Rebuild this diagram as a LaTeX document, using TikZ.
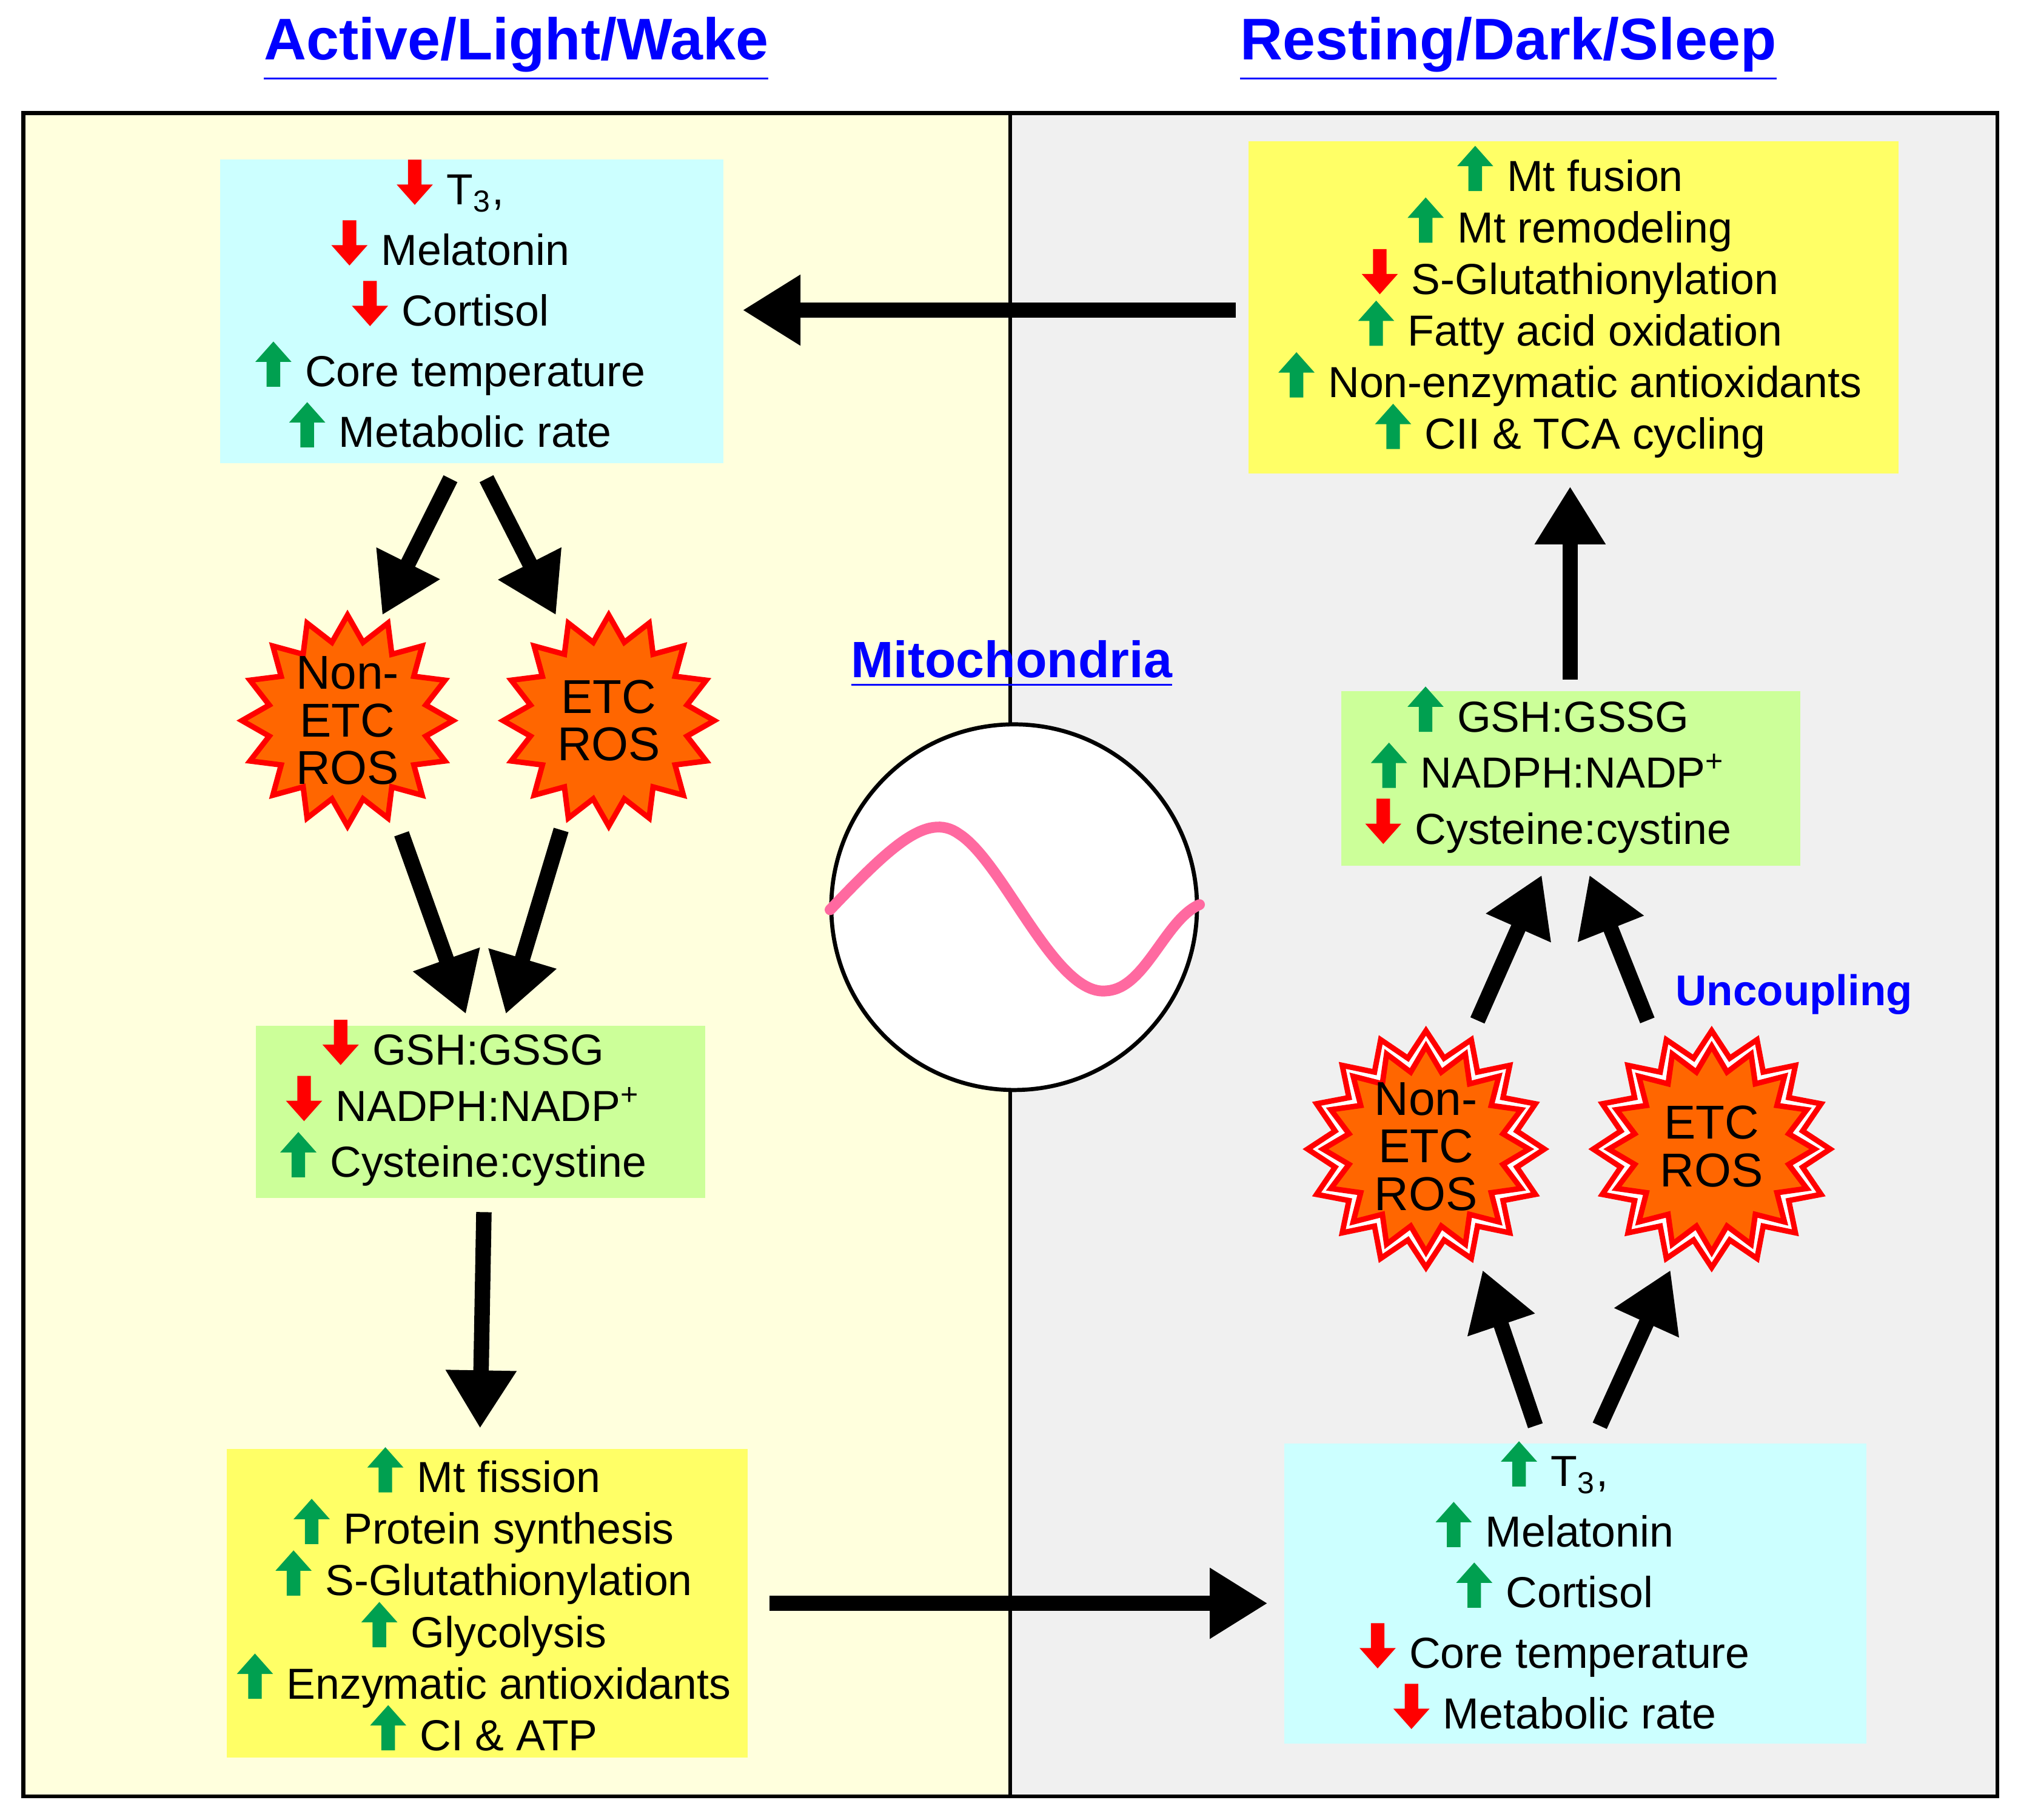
\documentclass[tikz,border=0pt]{standalone}
\usepackage{fontspec}
\setmainfont{Liberation Sans}
\usetikzlibrary{arrows.meta}
\definecolor{ltyel}{RGB}{255,255,221}
\definecolor{ltgray}{RGB}{240,240,240}
\definecolor{cyanbox}{RGB}{204,255,255}
\definecolor{yelbox}{RGB}{255,255,102}
\definecolor{grnbox}{RGB}{204,255,153}
\definecolor{upgreen}{RGB}{0,160,80}
\definecolor{burst}{RGB}{255,102,0}
\definecolor{wave}{RGB}{255,105,160}
\definecolor{ttlblue}{RGB}{0,0,255}
\newcommand{\uparr}{\smash{\tikz[baseline=0pt,x=1pt,y=1pt]\fill[upgreen] (-1.5,0)--(-1.5,5.5)--(-4,5.5)--(0,10)--(4,5.5)--(1.5,5.5)--(1.5,0)--cycle;}\hspace{3pt}}
\newcommand{\dnarr}{\smash{\tikz[baseline=0pt,x=1pt,y=1pt]\fill[red] (-1.5,10)--(-1.5,4.5)--(-4,4.5)--(0,0)--(4,4.5)--(1.5,4.5)--(1.5,10)--cycle;}\hspace{3pt}}
\begin{document}
\begin{tikzpicture}[x=0.01cm,y=-0.01cm,
  box/.style={draw=none,inner sep=0pt,align=center,font=\fontsize{9.6}{11.4}\selectfont},
  ttl/.style={font=\fontsize{13}{15}\bfseries\selectfont,text=ttlblue},
  bt/.style={font=\fontsize{10.5}{10.5}\selectfont,align=center},
  big/.style={line width=0.12cm,-{Triangle[length=0.45cm,width=0.52cm]}},
  bst/.style={fill=burst,draw=red,line width=1.2pt}]
\useasboundingbox (0,0) rectangle (1568,1414);
\fill[ltyel] (18,88) rectangle (785,1396);
\fill[ltgray] (785,88) rectangle (1552,1396);
\draw[line width=0.9pt] (18,88) rectangle (1552,1396);
\draw[line width=0.9pt] (785,88) -- (785,1396);
\node[ttl] (t1) at (401,38) {\underline{Active/Light/Wake}};
\node[ttl] (t2) at (1172,38) {\underline{Resting/Dark/Sleep}};
\node[ttl,font=\fontsize{11.3}{13}\bfseries\selectfont] (mito) at (786,516) {\underline{Mitochondria}};
\node[ttl,font=\fontsize{9.5}{12}\bfseries\selectfont] (unc) at (1394,773) {Uncoupling};
% circle & wave
\node[circle,draw,fill=white,line width=0.9pt,minimum size=2.84cm,inner sep=0pt] (circ) at (788,705) {};
\draw[wave,line width=2.4pt,line cap=round] (645,707) .. controls (690,660) and (720,630) .. (745,648) .. controls (780,670) and (820,775) .. (860,770) .. controls (890,768) and (905,715) .. (932,703);
% boxes
\fill[cyanbox] (171,124) rectangle (562,360);
\node[box,font=\fontsize{9.6}{13.4}\selectfont] (lt) at (350,242) {\dnarr T\textsubscript{3},\\ \dnarr Melatonin\\ \dnarr Cortisol\\ \uparr Core temperature\\ \uparr Metabolic rate};
\fill[yelbox] (970,110) rectangle (1475,368);
\node[box] (rt) at (1220,240) {\uparr Mt fusion\\ \uparr Mt remodeling\\ \dnarr S-Glutathionylation\\ \uparr Fatty acid oxidation\\ \uparr Non-enzymatic antioxidants\\ \uparr CII \& TCA cycling};
\fill[yelbox] (176,1126) rectangle (581,1366);
\node[box] (lb) at (376,1248) {\uparr Mt fission\\ \uparr Protein synthesis\\ \uparr S-Glutathionylation\\ \uparr Glycolysis\\ \uparr Enzymatic antioxidants\\ \uparr CI \& ATP};
\fill[cyanbox] (998,1122) rectangle (1450,1355);
\node[box,font=\fontsize{9.6}{13.4}\selectfont] (rb) at (1208,1238) {\uparr T\textsubscript{3},\\ \uparr Melatonin\\ \uparr Cortisol\\ \dnarr Core temperature\\ \dnarr Metabolic rate};
\fill[grnbox] (199,797) rectangle (548,931);
\node[box,font=\fontsize{9.6}{12.4}\selectfont] (lg) at (360,863) {\dnarr GSH:GSSG\\ \dnarr NADPH:NADP\textsuperscript{+}\\ \uparr Cysteine:cystine};
\fill[grnbox] (1042,537) rectangle (1399,673);
\node[box,font=\fontsize{9.6}{12.4}\selectfont] (rg) at (1203,604) {\uparr GSH:GSSG\\ \uparr NADPH:NADP\textsuperscript{+}\\ \dnarr Cysteine:cystine};
% bursts
\begin{scope}[shift={(270,560)}]
\draw[bst] (0:82) \foreach \i in {1,...,31}{-- ({\i*360/32}:{ifthenelse(mod(\i,2)==0,82,62)})} -- cycle;
\end{scope}
\node[bt] (b1) at (270,560) {Non-\\ETC\\ROS};
\begin{scope}[shift={(473,560)}]
\draw[bst] (0:82) \foreach \i in {1,...,31}{-- ({\i*360/32}:{ifthenelse(mod(\i,2)==0,82,62)})} -- cycle;
\end{scope}
\node[bt] (b2) at (473,560) {ETC\\ROS};
\foreach \cx in {1108,1330}{
\begin{scope}[shift={(\cx,893)}]
\draw[red,fill=white,line width=1.2pt] (0:92) \foreach \i in {1,...,31}{-- ({\i*360/32}:{ifthenelse(mod(\i,2)==0,92,72)})} -- cycle;
\draw[bst] (0:80) \foreach \i in {1,...,31}{-- ({\i*360/32}:{ifthenelse(mod(\i,2)==0,80,61)})} -- cycle;
\end{scope}}
\node[bt] (b3) at (1108,891) {Non-\\ETC\\ROS};
\node[bt] (b4) at (1330,891) {ETC\\ROS};
% arrows
\coordinate (a1s) at (960,241); \coordinate (a1e) at (577,241);
\coordinate (a2s) at (350,372); \coordinate (a2e) at (297,478);
\coordinate (a3s) at (378,372); \coordinate (a3e) at (432,478);
\coordinate (a4s) at (312,648); \coordinate (a4e) at (362,788);
\coordinate (a5s) at (436,645); \coordinate (a5e) at (393,788);
\coordinate (a6s) at (376,942); \coordinate (a6e) at (373,1110);
\coordinate (a7s) at (598,1246); \coordinate (a7e) at (985,1246);
\coordinate (a8s) at (1193,1108); \coordinate (a8e) at (1152,987);
\coordinate (a9s) at (1243,1108); \coordinate (a9e) at (1298,987);
\coordinate (a10s) at (1148,793); \coordinate (a10e) at (1198,680);
\coordinate (a11s) at (1280,793); \coordinate (a11e) at (1235,680);
\coordinate (a12s) at (1220,528); \coordinate (a12e) at (1220,378);
\foreach \k in {1,...,12}{\draw[big] (a\k s) -- (a\k e);}
\end{tikzpicture}
\end{document}
